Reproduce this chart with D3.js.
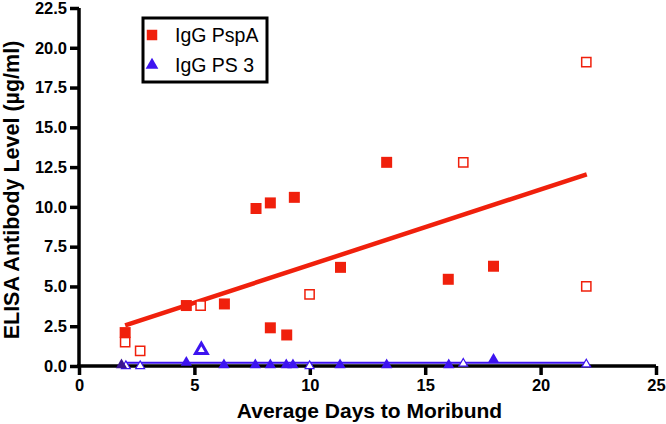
<!DOCTYPE html>
<html><head><meta charset="utf-8">
<script src="https://cdn.jsdelivr.net/npm/d3@7"></script>
<style>body{margin:0;background:#fff}svg{display:block}</style>
</head><body>
<svg id="c" width="666" height="424"></svg>
<script>
// Data
const xTicks = [0, 5, 10, 15, 20, 25];
const yTicks = [0, 2.5, 5, 7.5, 10, 12.5, 15, 17.5, 20, 22.5];
const pspaFilledX = [2.0, 4.65, 6.3, 7.67, 8.29, 9.33, 11.33, 13.33, 16.0, 17.96, 8.29, 9.0];
const pspaFilledY = [2.1, 3.8, 3.9, 9.9, 10.25, 10.6, 6.2, 12.8, 5.45, 6.27, 2.4, 1.95];
const pspaOpenX = [2.0, 2.65, 5.27, 9.99, 16.65, 21.98, 21.98];
const pspaOpenY = [1.5, 0.95, 3.8, 4.5, 12.8, 19.1, 5.0];
const ps3FilledX = [1.84, 4.65, 6.28, 7.64, 8.29, 8.98, 9.27, 11.31, 13.33, 16.02, 17.96];
const ps3FilledY = [0.0, 0.15, 0.0, 0.0, 0.0, 0.0, 0.0, 0.0, 0.0, 0.0, 0.35];
const ps3OpenX = [2.03, 2.65, 5.3, 9.99, 16.65, 21.98];
const ps3OpenY = [0.0, 0.0, 1.0, 0.0, 0.15, 0.1];
const pspaFitX = [2.0, 22.0];
const pspaFitY = [2.55, 12.05];
const ps3FitX = [2.0, 22.0];
const ps3FitY = [0.2, 0.2];
const legendLabels = ["IgG PspA", "IgG PS 3"];

const RED = "#f0200c", BLUE = "#3d14f0";
const FONT = "'Liberation Sans', Arial, Helvetica, sans-serif";
const svg = d3.select("#c");
const x = d3.scaleLinear().domain([0, 25]).range([79, 656]);
const y = d3.scaleLinear().domain([0, 22.5]).range([366, 8]);

// Axes
const gy = svg.append("g").attr("transform", "translate(79,0)")
  .call(d3.axisLeft(y).tickValues(yTicks).tickSize(9).tickSizeOuter(0).tickPadding(3).tickFormat(d3.format(".1f")));
const gx = svg.append("g").attr("transform", "translate(0,366)")
  .call(d3.axisBottom(x).tickValues(xTicks).tickSize(9).tickSizeOuter(0).tickPadding(4).tickFormat(d3.format("d")));
[gx, gy].forEach(g => {
  g.select(".domain").attr("stroke", "#000").attr("stroke-width", 3.5);
  g.selectAll(".tick line").attr("stroke", "#000").attr("stroke-width", 3.5);
  g.selectAll(".tick text").attr("fill", "#000").style("font-family", FONT)
    .style("font-size", "16.5px").style("font-weight", "bold");
});
gy.select(".domain").attr("d", `M0,${y(22.5)}V${y(0) + 1.5}`);
gx.select(".domain").attr("d", `M${x(0) - 2}, 0H${x(25)}`);

// Axis titles
svg.append("text").attr("x", (x(0) + x(25)) / 2 + 2).attr("y", 418)
  .attr("text-anchor", "middle").style("font-family", FONT).style("font-size", "21px").style("font-weight", "bold")
  .text("Average Days to Moribund");
svg.append("text").attr("transform", "translate(19,190) rotate(-90)")
  .attr("text-anchor", "middle").style("font-family", FONT).style("font-size", "21.5px").style("font-weight", "bold")
  .text("ELISA Antibody Level (µg/ml)");

// Fit lines
const line = d3.line().x(d => x(d[0])).y(d => y(d[1]));
svg.append("path").datum(d3.zip(ps3FitX, ps3FitY)).attr("d", line)
  .attr("stroke", BLUE).attr("stroke-width", 2).attr("fill", "none");
svg.append("path").datum(d3.zip(pspaFitX, pspaFitY)).attr("d", line)
  .attr("stroke", RED).attr("stroke-width", 4.5).attr("fill", "none");

// Symbols
const sq = d3.symbol().type(d3.symbolSquare);
const tri = d3.symbol().type(d3.symbolTriangle);
svg.append("g").selectAll("path").data(d3.zip(ps3OpenX, ps3OpenY)).join("path")
  .attr("d", (d, i) => tri.size(i === 2 ? 60 : 34)())
  .attr("transform", d => `translate(${x(d[0])},${y(d[1])})`)
  .attr("fill", "#fff").attr("stroke", BLUE).attr("stroke-width", (d, i) => i === 2 ? 3 : 1.2);
svg.append("g").selectAll("path").data(d3.zip(ps3FilledX, ps3FilledY)).join("path")
  .attr("d", tri.size(55)())
  .attr("transform", d => `translate(${x(d[0])},${y(d[1]) - 1})`)
  .attr("fill", (d, i) => i === 0 ? "#3a1690" : BLUE);
svg.append("g").selectAll("path").data(d3.zip(pspaOpenX, pspaOpenY)).join("path")
  .attr("d", sq.size(85)())
  .attr("transform", d => `translate(${x(d[0])},${y(d[1])})`)
  .attr("fill", "#fff").attr("stroke", RED).attr("stroke-width", 1.5);
svg.append("g").selectAll("path").data(d3.zip(pspaFilledX, pspaFilledY)).join("path")
  .attr("d", sq.size(121)())
  .attr("transform", d => `translate(${x(d[0])},${y(d[1])})`)
  .attr("fill", RED);

// Legend
const lg = svg.append("g");
lg.append("rect").attr("x", 143).attr("y", 18).attr("width", 124).attr("height", 64)
  .attr("fill", "#fff").attr("stroke", "#000").attr("stroke-width", 3);
lg.append("path").attr("d", sq.size(110)()).attr("transform", "translate(152,35)").attr("fill", RED);
lg.append("path").attr("d", tri.size(70)()).attr("transform", "translate(152,65)").attr("fill", BLUE);
lg.selectAll("text.l").data(legendLabels).join("text").attr("class", "l")
  .attr("x", 175).attr("y", (d, i) => 42 + i * 30)
  .style("font-family", FONT).style("font-size", "19.5px").attr("fill", "#000").text(d => d);
</script>
</body></html>
